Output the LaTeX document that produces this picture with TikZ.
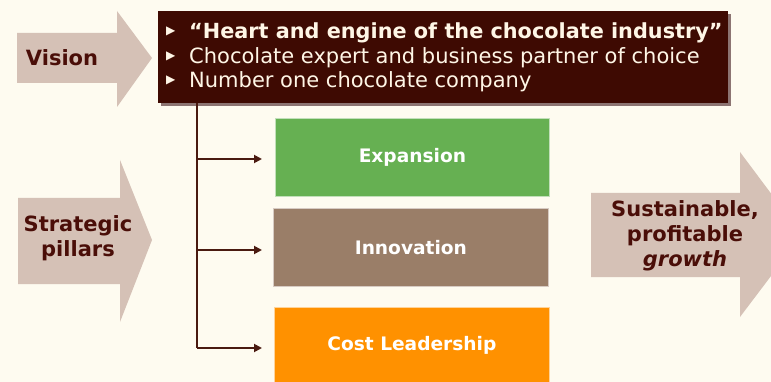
\documentclass[tikz,border=0pt]{standalone}
\usepackage{fontspec}
\setmainfont{DejaVu Sans}
\usetikzlibrary{arrows.meta}
\definecolor{bg}{HTML}{FEFBF0}
\definecolor{arrowfill}{HTML}{D5C1B6}
\definecolor{darktxt}{HTML}{4A0E08}
\definecolor{topfill}{HTML}{3E0A02}
\definecolor{shadowc}{HTML}{8C7472}
\definecolor{toptxt}{HTML}{FFF6E6}
\definecolor{greenbox}{HTML}{66B052}
\definecolor{brownbox}{HTML}{9A7E68}
\definecolor{orangebox}{HTML}{FF9100}
\definecolor{linec}{HTML}{4A1A10}
\tikzset{
  x=1pt, y=-1pt,
  arrowshape/.style={fill=arrowfill},
  arrowlabel/.style={text=darktxt, font=\fontsize{21}{25}\selectfont\bfseries, align=center, inner sep=0pt},
  toptext/.style={text=toptxt, anchor=base west, inner sep=0pt, font=\fontsize{21}{24}\selectfont},
  bulletc/.style={text=toptxt, anchor=base west, inner sep=0pt, font=\fontsize{12}{12}\selectfont},
  pillar/.style={draw=white!60!#1, line width=0.8pt, fill=#1, text=white, font=\fontsize{18.6}{20}\selectfont\bfseries},
  conn/.style={draw=linec, line width=1.8pt},
  connarrow/.style={conn, -{Triangle[length=8pt,width=8pt]}},
}
\begin{document}
\begin{tikzpicture}
\useasboundingbox (0,0) rectangle (771,382);
\fill[bg] (0,0) rectangle (771,382);
\begin{scope}
\clip (0,0) rectangle (771,382);
% Vision arrow
\fill[arrowshape] (17,33) -- (117,33) -- (117,11) -- (152,58) -- (117,107) -- (117,83) -- (17,83) -- cycle;
\node[arrowlabel] (vision) at (62,58) {Vision};
% Strategic pillars arrow
\fill[arrowshape] (18,198) -- (120,198) -- (120,160) -- (152,240) -- (120,322) -- (120,284) -- (18,284) -- cycle;
\node[arrowlabel] (pillars) at (78,238) {Strategic\\pillars};
% Sustainable growth arrow
\fill[arrowshape] (591,193) -- (740,193) -- (740,152) -- (802,235) -- (740,317) -- (740,277) -- (591,277) -- cycle;
\node[arrowlabel] (growth) at (685,236) {Sustainable,\\profitable\\\textit{growth}};
% Top box
\fill[shadowc] (161,14) rectangle (731,106);
\node[fill=topfill, minimum width=570pt, minimum height=92pt, inner sep=0pt, anchor=north west] (topbox) at (158,11) {};
\node[bulletc] (b1) at (166,35) {▶};
\node[bulletc] (b2) at (166,60) {▶};
\node[bulletc] (b3) at (166,84) {▶};
\node[toptext, font=\fontsize{20.8}{24}\selectfont\bfseries] (l1) at (189,39) {“Heart and engine of the chocolate industry”};
\node[toptext] (l2) at (189,64) {Chocolate expert and business partner of choice};
\node[toptext] (l3) at (189,88) {Number one chocolate company};
% Pillars
\node[pillar=greenbox, minimum width=274pt, minimum height=78pt, anchor=north west] (exp) at (275,118) {Expansion};
\node[pillar=brownbox, minimum width=275pt, minimum height=78pt, anchor=north west] (inn) at (273,208) {Innovation};
\node[pillar=orangebox, minimum width=275pt, minimum height=76pt, anchor=north west] (cost) at (274,307) {Cost Leadership};
\end{scope}
% Connectors
\coordinate (spine) at (197,103);
\coordinate (e1) at (262,159);
\coordinate (e2) at (262,250);
\coordinate (e3) at (262,348);
\draw[conn] (spine) -- (spine |- e3);
\draw[connarrow] (spine |- e1) -- (e1);
\draw[connarrow] (spine |- e2) -- (e2);
\draw[connarrow] (spine |- e3) -- (e3);
\end{tikzpicture}
\end{document}
